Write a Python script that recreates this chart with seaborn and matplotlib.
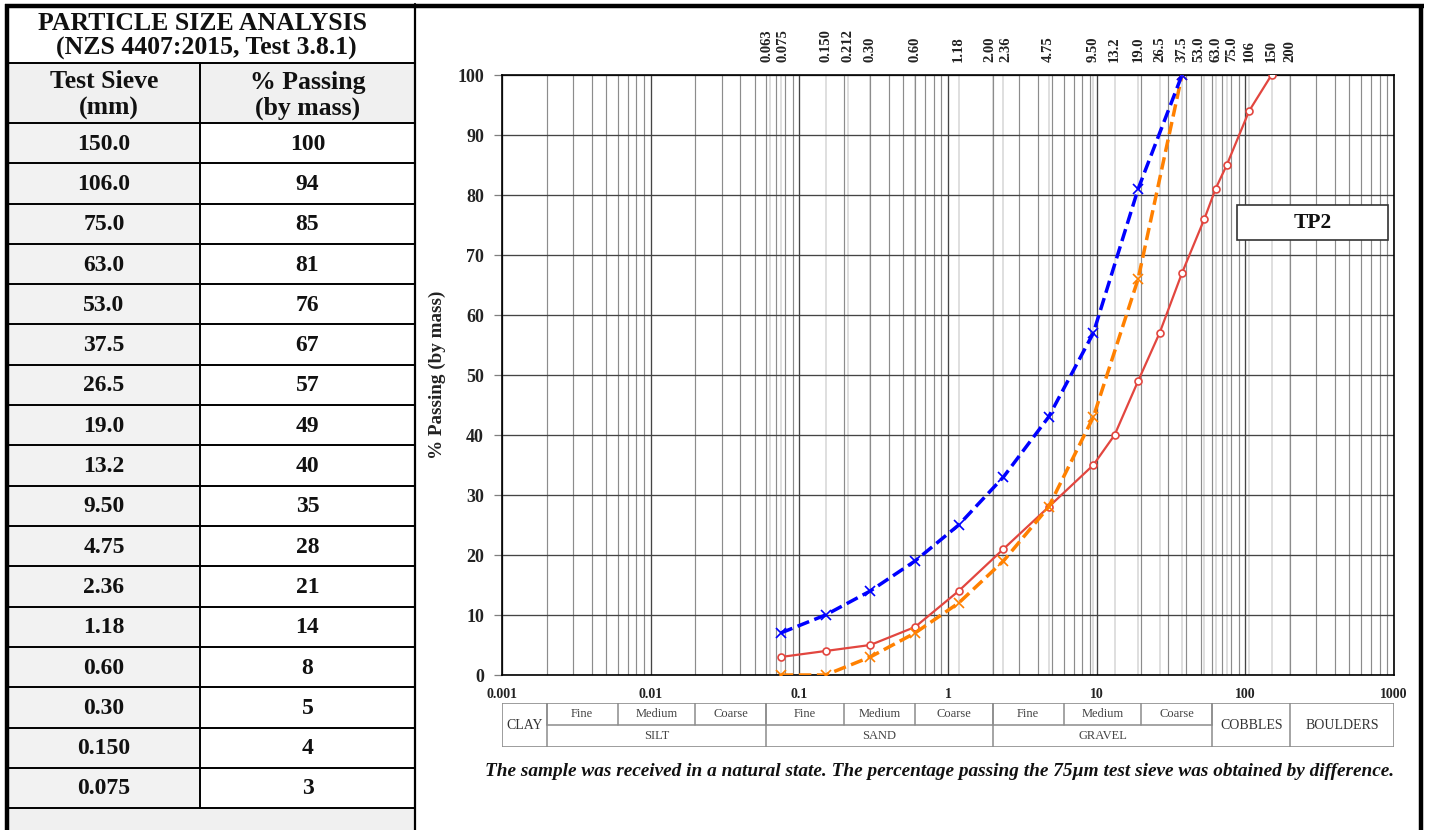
import numpy as np
import pandas as pd
import matplotlib
matplotlib.use('Agg')
import matplotlib.pyplot as plt
import matplotlib.transforms as mtransforms
from matplotlib.patches import Rectangle
from matplotlib.ticker import MultipleLocator, LogLocator, FixedLocator, FixedFormatter, NullFormatter
import seaborn as sns

sns.set_theme(style='white')
plt.rcParams['font.family'] = ['Liberation Serif', 'DejaVu Serif']

# ---- data ----
sieve_labels = ['150.0', '106.0', '75.0', '63.0', '53.0', '37.5', '26.5', '19.0', '13.2',
                '9.50', '4.75', '2.36', '1.18', '0.60', '0.30', '0.150', '0.075']
tp2_sieve = [float(s) for s in sieve_labels]
tp2_passing = [100, 94, 85, 81, 76, 67, 57, 49, 40, 35, 28, 21, 14, 8, 5, 4, 3]

env_sieve = [0.075, 0.15, 0.3, 0.6, 1.18, 2.36, 4.75, 9.5, 19.0, 37.5]
env_upper = [7, 10, 14, 19, 25, 33, 43, 57, 81, 100]
env_lower = [0, 0, 3, 7, 12, 19, 28, 43, 66, 100]

top_sieve_labels = ['0.063', '0.075', '0.150', '0.212', '0.30', '0.60', '1.18', '2.00', '2.36',
                    '4.75', '9.50', '13.2', '19.0', '26.5', '37.5', '53.0', '63.0', '75.0',
                    '106', '150', '200']

x_ticks = [0.001, 0.01, 0.1, 1, 10, 100, 1000]
x_tick_labels = ['0.001', '0.01', '0.1', '1', '10', '100', '1000']

# soil classification boundaries (mm)
sub_bounds = [0.002, 0.006, 0.02, 0.06, 0.2, 0.6, 2, 6, 20, 60]
sub_names = ['Fine', 'Medium', 'Coarse'] * 3
main_bounds = [0.002, 0.06, 2, 60]
main_names = ['SILT', 'SAND', 'GRAVEL']
whole_bounds = [(0.001, 0.002), (60, 200), (200, 1000)]
whole_names = ['CLAY', 'COBBLES', 'BOULDERS']

caption = ('The sample was received in a natural state. The percentage passing the '
           '75\u00b5m test sieve was obtained by difference.')

# ---- figure / layout in pixels ----
W, H = 1429, 830
fig = plt.figure(figsize=(W / 100, H / 100), dpi=100)
fig.patch.set_facecolor('white')


def box(l, t, r, b):
    return [l / W, 1 - b / H, (r - l) / W, (b - t) / H]


bg = fig.add_axes([0, 0, 1, 1])
bg.set_xlim(0, W)
bg.set_ylim(H, 0)
bg.axis('off')

# left results table
tl, tc, tr = 8, 200, 415
row_top, row_h = 123, 40.3
n = len(sieve_labels)
row_bot = row_top + n * row_h
bold = dict(fontweight='bold', color='#111111', ha='center', va='center')

bg.add_patch(Rectangle((tl, 63), tr - tl, row_top - 63, fc='#f0f0f0', ec='none'))
bg.add_patch(Rectangle((tl, row_bot), tr - tl, H - row_bot, fc='#f0f0f0', ec='none'))
bg.text(203, 23, 'PARTICLE SIZE ANALYSIS', fontsize=18.5, **bold)
bg.text(206, 48, '(NZS 4407:2015, Test 3.8.1)', fontsize=18.5, **bold)
bg.text((tl + tc) / 2, 82, 'Test Sieve', fontsize=18.5, **bold)
bg.text((tl + tc) / 2 + 5, 108, '(mm)', fontsize=18.5, **bold)
bg.text((tc + tr) / 2, 82, '% Passing', fontsize=18.5, **bold)
bg.text((tc + tr) / 2, 108, '(by mass)', fontsize=18.5, **bold)
for i, (s, p) in enumerate(zip(sieve_labels, tp2_passing)):
    y0 = row_top + i * row_h
    bg.add_patch(Rectangle((tl, y0), tc - tl, row_h, fc='#f2f2f2', ec='none'))
    bg.text((tl + tc) / 2, y0 + row_h / 2 + 1, s, fontsize=17, **bold)
    bg.text((tc + tr) / 2, y0 + row_h / 2 + 1, str(p), fontsize=17, **bold)
for y in [63, row_top] + [row_top + (i + 1) * row_h for i in range(n)]:
    bg.plot([tl, tr], [y, y], color='black', lw=1.4)
bg.plot([tc, tc], [63, row_bot], color='black', lw=1.4)

# outer frame
bg.plot([7, 7], [4, H], color='black', lw=3.2, solid_capstyle='butt')
bg.plot([5, 1424], [6, 6], color='black', lw=3.2, solid_capstyle='butt')
bg.plot([1421, 1421], [4, H], color='black', lw=3.2, solid_capstyle='butt')
bg.plot([415, 415], [4, H], color='black', lw=1.6)

# ---- grading chart ----
ax = fig.add_axes(box(502, 75, 1394, 675))
ax.set_facecolor('white')
ax.set_xscale('log')
ax.set_xlim(1e-3, 1e3)
ax.set_ylim(0, 100)

ax.xaxis.set_major_locator(FixedLocator(x_ticks))
ax.xaxis.set_major_formatter(FixedFormatter(x_tick_labels))
ax.xaxis.set_minor_locator(LogLocator(base=10, subs=np.arange(2, 10)))
ax.xaxis.set_minor_formatter(NullFormatter())
ax.yaxis.set_major_locator(MultipleLocator(10))
ax.grid(which='major', axis='both', color='#444444', lw=0.95)
ax.grid(which='minor', axis='x', color='#8c8c8c', lw=0.85)
ax.set_axisbelow(True)
for v in top_sieve_labels:
    ax.axvline(float(v), color='#d6d6d6', lw=1.1, zorder=0.4)

ax.tick_params(axis='x', which='both', length=0, pad=9, labelsize=10, labelcolor='#222222')
ax.tick_params(axis='y', which='major', left=True, length=6, width=0.9, color='#7f7f7f',
               pad=7, labelsize=13, labelcolor='#222222')
for lab in ax.get_xticklabels() + ax.get_yticklabels():
    lab.set_fontweight('bold')
for sp in ax.spines.values():
    sp.set_color('black')
    sp.set_linewidth(1.2)
ax.set_ylabel('% Passing (by mass)', fontsize=13.8, fontweight='bold', color='#222222', labelpad=8)
ax.set_xlabel('')

sns.lineplot(x=tp2_sieve, y=tp2_passing, ax=ax, color='#e2463f', lw=1.6, marker='o',
             markersize=5, markerfacecolor='white', markeredgecolor='#e2463f',
             markeredgewidth=1.2, zorder=4)
sns.lineplot(x=env_sieve, y=env_lower, ax=ax, color='#ff8000', lw=2.5,
             linestyle=(0, (3.6, 1.6)), marker='x', markersize=7, markeredgewidth=1.2,
             markeredgecolor='#ff8000', zorder=5)
sns.lineplot(x=env_sieve, y=env_upper, ax=ax, color='#0000ff', lw=2.5,
             linestyle=(0, (3.6, 1.6)), marker='x', markersize=7, markeredgewidth=1.2,
             markeredgecolor='#0000ff', zorder=5)
ax.set_xlim(1e-3, 1e3)
ax.set_ylim(0, 100)

# sieve sizes along the top; nudge crowded labels apart so they do not collide
ax_w = 892.0
pos = [(np.log10(float(s)) + 3) / 6 * ax_w for s in top_sieve_labels]
min_gap = 16.5
for _ in range(200):
    for i in range(len(pos) - 1):
        gap = pos[i + 1] - pos[i]
        if gap < min_gap:
            d = (min_gap - gap) / 2
            pos[i] -= d
            pos[i + 1] += d
for p, lab in zip(pos, top_sieve_labels):
    ax.text(p / ax_w, 1 + 13 / 600, lab, transform=ax.transAxes, rotation=90, ha='center',
            va='bottom', fontsize=10.5, fontweight='bold', color='#222222', clip_on=False)

# sample id box
ax.add_patch(Rectangle((0.824, 0.725), 0.169, 0.058, transform=ax.transAxes, fc='white',
                       ec='#333333', lw=1.2, zorder=6))
ax.text(0.9085, 0.754, 'TP2', transform=ax.transAxes, ha='center', va='center', fontsize=15.5,
        fontweight='bold', color='#111111', zorder=7)

# ---- soil classification strip ----
tax = fig.add_axes(box(502, 703, 1394, 747))
tax.set_xscale('log')
tax.set_xlim(1e-3, 1e3)
tax.set_ylim(0, 2)
tax.axis('off')
lc = '#8c8c8c'
tax.add_patch(Rectangle((0, 0), 1, 1, transform=tax.transAxes, fill=False, ec=lc, lw=1.2))
for b in sub_bounds:
    tax.plot([b, b], [1, 2], color=lc, lw=1.1)
for b in main_bounds + [200]:
    tax.plot([b, b], [0, 2], color=lc, lw=1.1)
tax.plot([main_bounds[0], main_bounds[-1]], [1, 1], color=lc, lw=1.1)
for a, b, name in zip(sub_bounds[:-1], sub_bounds[1:], sub_names):
    tax.text(np.sqrt(a * b), 1.5, name, ha='center', va='center', fontsize=9, color='#444444')
for a, b, name in zip(main_bounds[:-1], main_bounds[1:], main_names):
    tax.text(np.sqrt(a * b), 0.5, name, ha='center', va='center', fontsize=9, color='#444444')
for (a, b), name in zip(whole_bounds, whole_names):
    tax.text(np.sqrt(a * b), 1.0, name, ha='center', va='center', fontsize=10, color='#333333')

fig.text(940 / W, 1 - 771 / H, caption, ha='center', va='center', fontsize=13.9,
         fontweight='bold', fontstyle='italic', color='#111111')

fig.savefig('out.png', dpi=100)
